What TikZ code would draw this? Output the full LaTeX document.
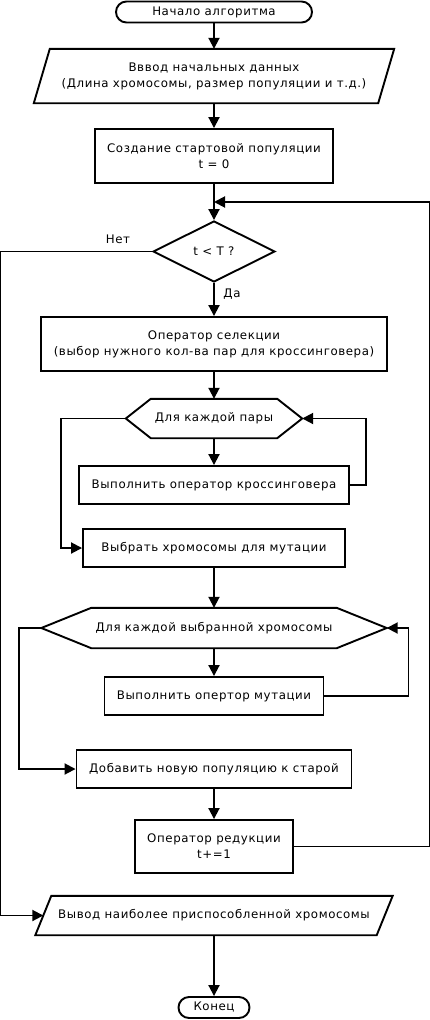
\documentclass[tikz,border=0pt]{standalone}
\usepackage{fontspec}
\setmainfont[LetterSpace=5]{DejaVu Sans}
\usetikzlibrary{arrows.meta,calc,shapes.geometric}
\begin{document}
\begin{tikzpicture}[x=1pt,y=-1pt,
  ln/.style={line width=1.9pt},
  arr/.style={ln,-{Triangle[length=11pt,width=11pt]}},
  txt/.style={font=\fontsize{11.8}{16}\selectfont,align=center,inner sep=0pt},
  procbox/.style={txt,draw,ln,minimum width=#1},
  freebox/.style={txt,minimum width=#1},
  lbl/.style={font=\fontsize{11.8}{16}\selectfont,inner sep=0pt}
]
\useasboundingbox (0,0) rectangle (430,1020);

\node[procbox=196,minimum height=21,rounded corners=10.5pt] (start) at (214,12) {Начало алгоритма};
\node[freebox=360,minimum height=54] (inp) at (214,76) {Вввод начальных данных\\(Длина хромосомы, размер популяции и т.д.)};
\draw[ln] ([xshift=16pt]inp.north west) -- (inp.north east) -- ([xshift=-16pt]inp.south east) -- (inp.south west) -- cycle;
\node[procbox=238,minimum height=54] (init) at (214,156) {Создание стартовой популяции\\t = 0};
\node[txt,draw,ln,diamond,aspect=2,minimum width=122,minimum height=61] (dec) at (214,251.5) {t < T ?};
\node[procbox=346,minimum height=54] (sel) at (214,344) {Оператор селекции\\(выбор нужного кол-ва пар для кроссинговера)};
\node[freebox=176,minimum height=39] (hexa) at (214,418.5) {Для каждой пары};
\draw[ln] (hexa.west) -- ([xshift=25pt]hexa.north west) -- ([xshift=-25pt]hexa.north east) -- (hexa.east) -- ([xshift=-25pt]hexa.south east) -- ([xshift=25pt]hexa.south west) -- cycle;
\node[procbox=270,minimum height=38] (cross) at (214,485) {Выполнить оператор кроссинговера};
\node[procbox=262,minimum height=38] (mutsel) at (214,548) {Выбрать хромосомы для мутации};
\node[freebox=345,minimum height=40] (hexb) at (214,628) {Для каждой выбранной хромосомы};
\draw[ln] (hexb.west) -- ([xshift=50pt]hexb.north west) -- ([xshift=-50pt]hexb.north east) -- (hexb.east) -- ([xshift=-50pt]hexb.south east) -- ([xshift=50pt]hexb.south west) -- cycle;
\node[procbox=219,minimum height=38] (mut) at (214,696) {Выполнить опертор мутации};
\node[procbox=275,minimum height=38] (add) at (214,769) {Добавить новую популяцию к старой};
\node[procbox=158,minimum height=53] (red) at (214,846.5) {Оператор редукции\\t+=1};
\node[freebox=357,minimum height=39] (out) at (214,915.5) {Вывод наиболее приспособленной хромосомы};
\draw[ln] ([xshift=16pt]out.north west) -- (out.north east) -- ([xshift=-16pt]out.south east) -- (out.south west) -- cycle;
\node[procbox=71,minimum height=21,rounded corners=10.5pt] (end) at (214,1007.5) {Конец};

\node[lbl] (no) at (118,239) {Нет};
\node[lbl] (yes) at (232,294) {Да};

\coordinate (outL) at ($(out.west)+(8,0)$);
\coordinate (join) at (214,202);

\draw[arr] (start.south) -- (inp.north);
\draw[arr] (inp.south) -- (init.north);
\draw[arr] (init.south) -- (dec.north);
\draw[arr] (dec.south) -- (sel.north);
\draw[arr] (dec.west) -- ++(-152,0) |- (outL);
\draw[arr] (sel.south) -- (hexa.north);
\draw[arr] (hexa.west) -- ++(-65,0) |- (mutsel.west);
\draw[arr] (hexa.south) -- (cross.north);
\draw[arr] (cross.east) -- ++(16,0) |- (hexa.east);
\draw[arr] (mutsel.south) -- (hexb.north);
\draw[arr] (hexb.west) -- ++(-22,0) |- (add.west);
\draw[arr] (hexb.south) -- (mut.north);
\draw[arr] (mut.east) -- ++(84,0) |- (hexb.east);
\draw[arr] (add.south) -- (red.north);
\draw[arr] (red.east) -- ++(136,0) |- (join);
\draw[arr] (out.south) -- (end.north);
\end{tikzpicture}
\end{document}
